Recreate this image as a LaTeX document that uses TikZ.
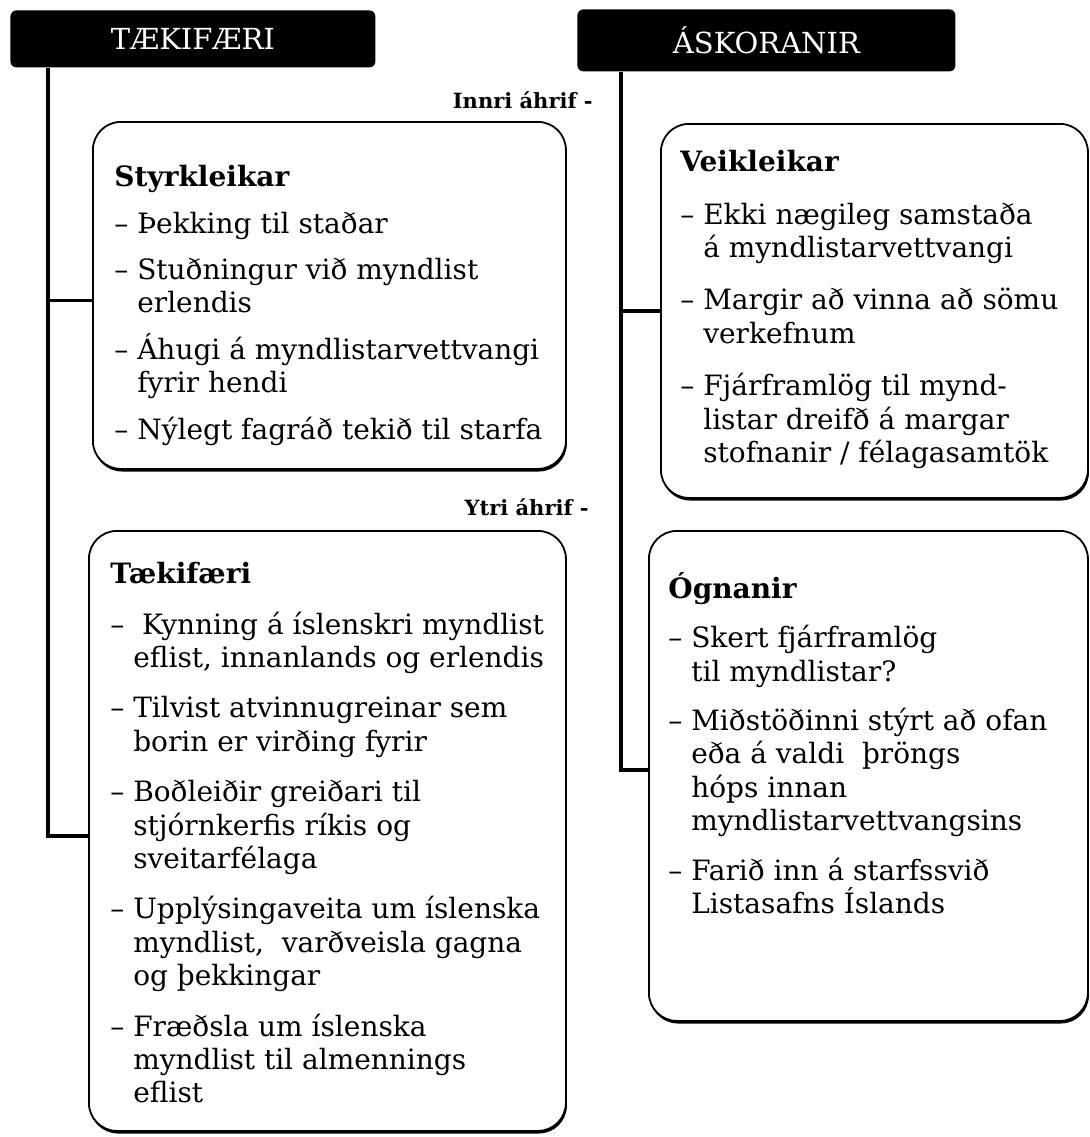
\documentclass[tikz,border=0pt]{standalone}
\usepackage{fontspec}
\setmainfont{DejaVu Serif}
\usetikzlibrary{positioning, shadows}

\newlength{\gapsz}
\tikzset{
  hdr/.style={fill=black, text=white, rounded corners=3pt, inner sep=0pt,
    anchor=north west, font=\fontsize{14.5}{17}\selectfont},
  card/.style={draw, line width=0.9pt, rounded corners=14pt, fill=white, inner sep=0pt,
    anchor=north west, general shadow={fill=black, shadow xshift=0.5pt, shadow yshift=-1.3pt}},
  txt/.style={anchor=north west, align=left, inner sep=0pt,
    font=\fontsize{14}{16.7}\selectfont\setlength{\gapsz}{#1}},
  txt/.default=8.5pt,
  side/.style={anchor=east, inner sep=0pt, font=\bfseries\fontsize{10.5}{12}\selectfont},
  spine/.style={line width=2.4pt},
  branch/.style={line width=1.8pt}
}
\newcommand{\itemgap}{\\[\gapsz]}
\newcommand{\cont}{\hphantom{– }}

\begin{document}
\begin{tikzpicture}[x=0.5pt, y=-0.5pt]
\useasboundingbox (0,0) rectangle (1089,1137);

% headers
\node[hdr, minimum width=182.5pt, minimum height=28.5pt] (tae) at (10,10) {TÆKIFÆRI};
\node[hdr, minimum width=189pt, minimum height=31pt] (ask) at (577,9) {ÁSKORANIR};

% spines
\coordinate (ltop) at ([xshift=19pt]tae.south west);
\coordinate (rtop) at ([xshift=22pt]ask.south west);

% boxes
\node[card, minimum width=236.5pt, minimum height=173.5pt] (styrk) at (92,121) {};
\node[card, minimum width=238.5pt, minimum height=300pt] (tkf) at (88,530) {};
\node[card, minimum width=213.5pt, minimum height=187pt] (veik) at (660,123) {};
\node[card, minimum width=219.5pt, minimum height=245pt] (ogn) at (648,530) {};

\coordinate (lmid) at ([yshift=-2.5pt]styrk.west);
\coordinate (lend) at ([yshift=-2.5pt]tkf.west);
\coordinate (rend) at ([yshift=3pt]ogn.west);
\draw[spine] (ltop) |- (lend);
\draw[branch] (ltop |- lmid) -- (lmid);
\draw[spine] (rtop) |- (rend);
\draw[branch] (rtop |- veik.west) -- (veik.west);

\node[side] (innri) at (593,100) {Innri áhrif -};
\node[side] (ytri) at (589,507) {Ytri áhrif -};

% texts
\node[txt=6.5pt] (styrktxt) at (114,165) {\textbf{Styrkleikar}\itemgap
  – Þekking til staðar\itemgap
  – Stuðningur við myndlist\\\cont erlendis\itemgap
  – Áhugi á myndlistarvettvangi\\\cont fyrir hendi\itemgap
  – Nýlegt fagráð tekið til starfa};
\node[txt] (tkftxt) at (110,562) {\textbf{Tækifæri}\itemgap
  –~ Kynning á íslenskri myndlist\\\cont eflist, innanlands og erlendis\itemgap
  – Tilvist atvinnugreinar sem\\\cont borin er virðing fyrir\itemgap
  – Boðleiðir greiðari til\\\cont stjórnkerfis ríkis og\\\cont sveitarfélaga\itemgap
  – Upplýsingaveita um íslenska\\\cont myndlist,~ varðveisla gagna\\\cont og þekkingar\itemgap
  – Fræðsla um íslenska\\\cont myndlist til almennings\\\cont eflist};
\node[txt=9.5pt] (veiktxt) at (680,150) {\textbf{Veikleikar}\itemgap
  – Ekki nægileg samstaða\\\cont á myndlistarvettvangi\itemgap
  – Margir að vinna að sömu\\\cont verkefnum\itemgap
  – Fjárframlög til mynd-\\\cont listar dreifð á margar\\\cont stofnanir / félagasamtök};
\node[txt=8pt] (ogntxt) at (668,572) {\textbf{Ógnanir}\itemgap
  – Skert fjárframlög\\\cont til myndlistar?\itemgap
  – Miðstöðinni stýrt að ofan\\\cont eða á valdi~ þröngs\\\cont hóps innan\\\cont myndlistarvettvangsins\itemgap
  – Farið inn á starfssvið\\\cont Listasafns Íslands};
\end{tikzpicture}
\end{document}
